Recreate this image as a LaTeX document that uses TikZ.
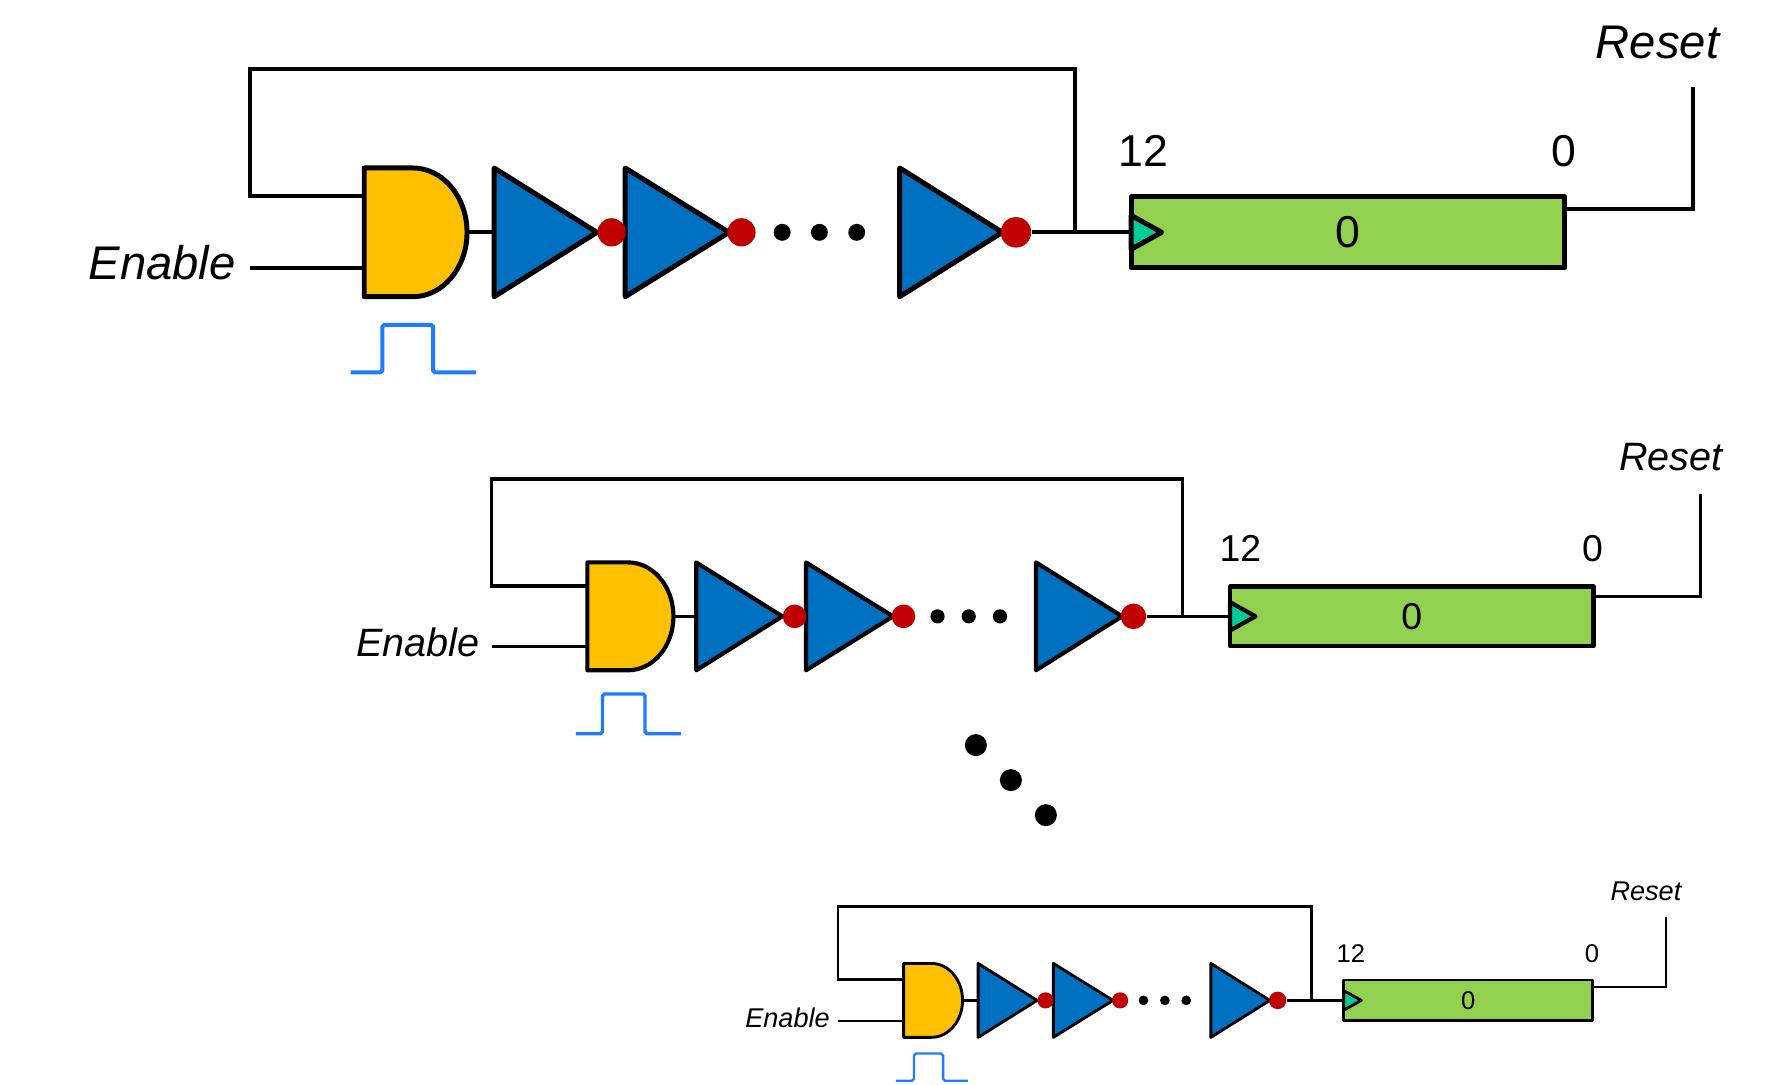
\documentclass[tikz,border=0pt]{standalone}
\usepackage{fontspec}
\setmainfont{Liberation Sans}
\definecolor{gatefill}{HTML}{FFC000}
\definecolor{invfill}{HTML}{0070C0}
\definecolor{dotred}{HTML}{C00000}
\definecolor{regfill}{HTML}{92D050}
\definecolor{clkfill}{HTML}{00CC99}
\definecolor{pulseblue}{HTML}{1F7BFF}
\tikzset{
  wire/.style={line width=\wirew, line join=miter},
  part/.style={draw=black, line width=\partw, line join=round},
  pulse/.style={draw=pulseblue, line width=\wirew, rounded corners=1pt},
  bubble/.style={circle, fill=dotred, inner sep=0pt, minimum size=#1*0.02cm},
  regbox/.style={part, fill=regfill, inner sep=0pt, minimum width=7.68cm, minimum height=1.26cm},
  txt/.style={inner sep=0pt, font=\fontsize{22.5}{26}\selectfont},
  itxt/.style={inner sep=0pt, font=\fontsize{23.8}{26}\selectfont\itshape}
}
\begin{document}
\begin{tikzpicture}[x=0.02cm,y=0.02cm]
\useasboundingbox (0,0) rectangle (1568,-960.6);
\foreach \name/\s/\cx/\cy in {top/1/322.5/-205.7, mid/0.838/520/-545.7, low/0.574/800/-885.7} {
  \pgfmathsetlengthmacro{\wirew}{2pt*\s}
  \pgfmathsetlengthmacro{\partw}{2.5pt*\s}
  \begin{scope}[shift={(\cx,\cy)},scale=\s,transform shape]
    % the gate and three inverters
    \draw[part,fill=gatefill] (0,-57) -- (43,-57) arc[start angle=-90,end angle=90,x radius=48,y radius=57] -- (0,57) -- cycle;
    \draw[part,fill=invfill] (115,57) -- (206,0) -- (115,-57) -- cycle;
    \draw[part,fill=invfill] (231,57) -- (323,0) -- (231,-57) -- cycle;
    \draw[part,fill=invfill] (474,57) -- (565,0) -- (474,-57) -- cycle;
    \coordinate (\name gatein) at (0,32);
    \coordinate (\name gateen) at (0,-32);
    \coordinate (\name gateout) at (91,0);
    \coordinate (\name invin) at (115,0);
    % bubbles and dots
    \node[bubble=25] (\name bubA) at (219,0) {};
    \node[bubble=25] (\name bubB) at (334,0) {};
    \node[bubble=27] (\name bubC) at (577,0) {};
    \node[circle,fill=black,inner sep=0pt,minimum size=0.3cm] (\name dotA) at (370,0) {};
    \node[circle,fill=black,inner sep=0pt,minimum size=0.3cm] (\name dotB) at (403,0) {};
    \node[circle,fill=black,inner sep=0pt,minimum size=0.3cm] (\name dotC) at (436,0) {};
    % the register
    \node[regbox,txt] (\name reg) at (871,0) {0};
    \draw[part,fill=clkfill] (679,15) -- (706,0) -- (679,-15) -- cycle;
    \node[txt] (\name msb) at (690,72) {12};
    \node[txt] (\name lsb) at (1062,72) {0};
    % labels and free ends
    \node[itxt] (\name en) at (-179,-27) {Enable};
    \node[itxt] (\name rst) at (1145,168) {Reset};
    \coordinate (\name enend) at (-101,-32);
    \coordinate (\name rstout) at (1063,21);
    \coordinate (\name rstend) at (1176,129);
    \coordinate (\name fork) at (629,0);
    \coordinate (\name fbtop) at (629,145);
    \coordinate (\name fbleft) at (-101,145);
    % and the wires
    \draw[wire] (\name gateout) -- (\name invin);
    \draw[wire] (\name bubC.east) -- (\name reg.west);
    \draw[wire] (\name fork) -- (\name fbtop) -- (\name fbleft) |- (\name gatein);
    \draw[wire] (\name enend) -- (\name gateen);
    \draw[wire] (\name rstout) -| (\name rstend);
    \draw[pulse] (-12,-124) -- (16,-124) -- (16,-82) -- (61,-82) -- (61,-124) -- (99,-124);
  \end{scope}
}
% three dots between the rows
\node[circle,fill=black,inner sep=0pt,minimum size=0.39cm] (gapA) at (864,-659.7) {};
\node[circle,fill=black,inner sep=0pt,minimum size=0.39cm] (gapB) at (895,-690.7) {};
\node[circle,fill=black,inner sep=0pt,minimum size=0.39cm] (gapC) at (926,-721.7) {};
\end{tikzpicture}
\end{document}
